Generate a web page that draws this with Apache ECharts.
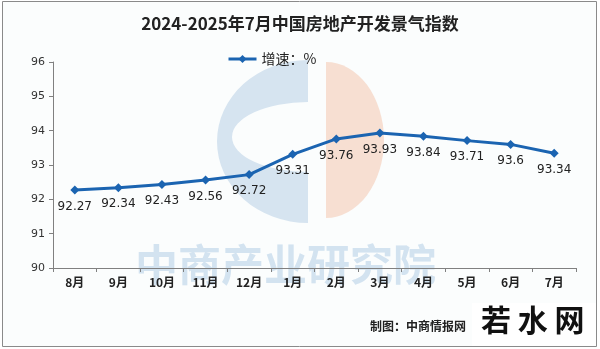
<!DOCTYPE html>
<html><head><meta charset="utf-8">
<script src="https://cdn.jsdelivr.net/npm/echarts@6/dist/echarts.min.js"></script>
<style>html,body{margin:0;padding:0;background:#fff;}#c{width:600px;height:349px;}</style>
</head><body><div id="c"></div>
<script>
const titleText = '2024-2025年7月中国房地产开发景气指数';
const seriesName = '增速：%';
const categories = ['8月','9月','10月','11月','12月','1月','2月','3月','4月','5月','6月','7月'];
const values = [92.27, 92.34, 92.43, 92.56, 92.72, 93.31, 93.76, 93.93, 93.84, 93.71, 93.6, 93.34];
const yMin = 90, yMax = 96, yStep = 1;
const sourceText = '制图：中商情报网';

const chart = echarts.init(document.getElementById('c'), null, {renderer: 'canvas'});
chart.setOption({
  backgroundColor: '#fff',
  animation: false,
  graphic: [
    {type: 'rect', z: -10, shape: {x: 2.5, y: 1.5, width: 594, height: 345}, style: {fill: '#fbfdfd', stroke: '#8a8a8a', lineWidth: 1}},
    {type: 'sector', z: -9, x: 308, y: 141.5, scaleX: 91 / 81.5, shape: {cx: 0, cy: 0, r: 81.5, startAngle: Math.PI / 2, endAngle: Math.PI * 1.5}, style: {fill: '#d6e4f0'}},
    {type: 'sector', z: -9, x: 308, y: 137, scaleX: 76 / 35, shape: {cx: 0, cy: 0, r: 35, startAngle: Math.PI / 2, endAngle: Math.PI * 1.5}, style: {fill: '#fbfdfd'}},
    {type: 'sector', z: -9, x: 326, y: 140, scaleX: 58 / 78, shape: {cx: 0, cy: 0, r: 78, startAngle: -Math.PI / 2, endAngle: Math.PI / 2}, style: {fill: '#f7dfd2'}},
    {type: 'text', z: -8, left: 135, top: 243, style: {text: '中商产业研究院', fill: '#d3e3f0', font: 'bold 43px "Noto Sans CJK SC"'}},
    {type: 'text', z: 10, left: 370, top: 320, style: {text: sourceText, fill: '#222', font: 'bold 12px "Noto Sans CJK SC"'}},
    {type: 'rect', z: 11, shape: {x: 472, y: 303, width: 124, height: 43}, style: {fill: '#ffffff'}},
    {type: 'text', z: 12, left: 481, top: 305, style: {text: '若 水 网', fill: '#111', font: 'bold 30px "Noto Sans CJK SC"'}}
  ],
  title: {
    text: titleText, left: 'center', top: 10,
    textStyle: {fontFamily: '"Noto Sans CJK SC"', fontWeight: 'bold', fontSize: 17, color: '#222'}
  },
  legend: {
    top: 47, left: 222, itemWidth: 28, itemHeight: 10, itemGap: 5,
    lineStyle: {width: 3},
    textStyle: {fontFamily: '"Noto Sans CJK SC"', fontSize: 14, color: '#222'},
    data: [seriesName]
  },
  grid: {left: 53, right: 24, top: 62, bottom: 81},
  xAxis: {
    type: 'category', data: categories, boundaryGap: true,
    axisLine: {lineStyle: {color: '#808080', width: 1}},
    axisTick: {show: true, interval: 0, length: 4, lineStyle: {color: '#808080'}},
    axisLabel: {color: '#222', fontSize: 12, fontWeight: 'bold', fontFamily: '"Noto Sans CJK SC"', margin: 8, interval: 0},
    splitLine: {show: false}
  },
  yAxis: {
    type: 'value', min: yMin, max: yMax, interval: yStep,
    axisLine: {show: true, lineStyle: {color: '#808080', width: 1}},
    axisTick: {show: true, length: 4, lineStyle: {color: '#808080'}},
    axisLabel: {color: '#333', fontSize: 11, fontFamily: '"DejaVu Sans"', margin: 8},
    splitLine: {show: false}
  },
  series: [{
    name: seriesName, type: 'line', data: values,
    symbol: 'diamond', symbolSize: 9,
    lineStyle: {color: '#1b64b1', width: 3},
    itemStyle: {color: '#1b64b1'},
    label: {show: true, position: 'bottom', distance: 6, color: '#222', fontSize: 12, fontFamily: '"DejaVu Sans"'}
  }]
});
</script></body></html>
